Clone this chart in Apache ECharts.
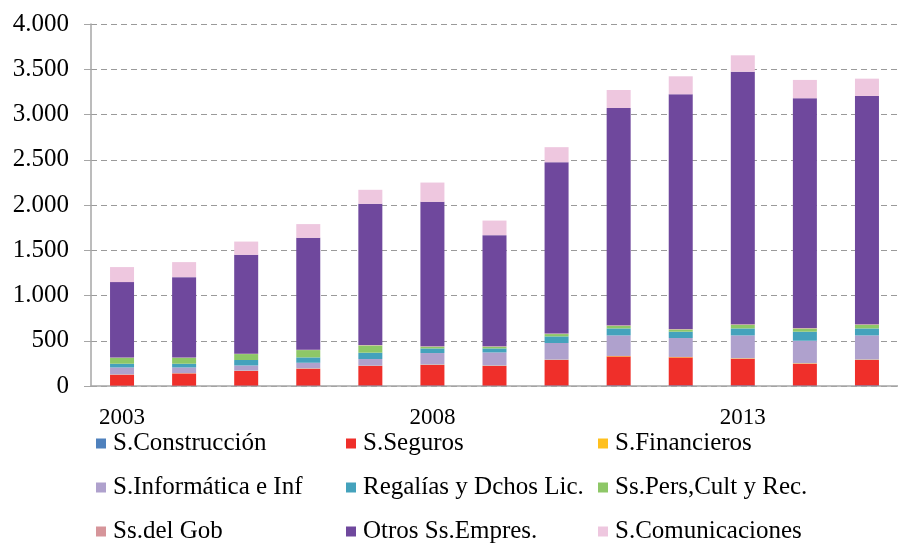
<!DOCTYPE html>
<html>
<head>
<meta charset="utf-8">
<script src="https://cdn.jsdelivr.net/npm/echarts@6/dist/echarts.min.js"></script>
<style>
  html, body { margin: 0; padding: 0; background: #fff; }
  #chart { width: 898px; height: 544px; }
</style>
</head>
<body>
<div id="chart"></div>
<script>
  // años
  var years = ["2003", "2004", "2005", "2006", "2007", "2008", "2009", "2010", "2011", "2012", "2013", "2014", "2015"];

  // series apiladas (de abajo hacia arriba)
  var construccion = [4, 4, 5, 5, 6, 6, 5, 6, 7, 7, 7, 6, 7];
  var seguros = [121, 135, 161, 186, 215, 226, 216, 281, 320, 309, 294, 240, 280];
  var financieros = [2, 2, 3, 3, 3, 4, 4, 4, 5, 5, 5, 5, 5];
  var informatica = [78, 64, 58, 63, 74, 128, 146, 184, 227, 209, 253, 249, 267];
  var regalias = [41, 41, 60, 59, 70, 51, 44, 73, 77, 70, 77, 100, 77];
  var ssPers = [66, 66, 66, 81, 80, 19, 19, 26, 30, 25, 41, 36, 41];
  var ssGob = [3, 3, 4, 4, 4, 5, 5, 5, 6, 6, 6, 6, 6];
  var otrosEmpres = [833, 888, 1093, 1236, 1561, 1596, 1228, 1894, 2400, 2593, 2790, 2538, 2522];
  var comunicaciones = [166, 166, 146, 152, 155, 213, 161, 166, 199, 198, 181, 202, 191];

  var yTicks = [0, 500, 1000, 1500, 2000, 2500, 3000, 3500, 4000];

  var font = "'Liberation Serif', 'Times New Roman', serif";

  var seriesDef = [
    ["S.Construcción", construccion, "#4f81bd"],
    ["S.Seguros", seguros, "#ef2f2a"],
    ["S.Financieros", financieros, "#ffc01e"],
    ["S.Informática e Inf", informatica, "#afa1cd"],
    ["Regalías y Dchos Lic.", regalias, "#44a2bc"],
    ["Ss.Pers,Cult y Rec.", ssPers, "#8ec767"],
    ["Ss.del Gob", ssGob, "#d6959a"],
    ["Otros Ss.Empres.", otrosEmpres, "#6f489d"],
    ["S.Comunicaciones", comunicaciones, "#eec7df"]
  ];

  function miles(v) {
    return String(v).replace(/\B(?=(\d{3})+(?!\d))/g, ".");
  }

  // una leyenda vertical por columna, 3 filas
  function legendCol(left, names) {
    return {
      orient: "vertical",
      left: left,
      top: 431,
      height: 120,
      padding: 0,
      itemWidth: 10,
      itemHeight: 10,
      itemGap: 19,
      icon: "rect",
      selectedMode: false,
      data: names,
      textStyle: { fontFamily: font, fontSize: 25, lineHeight: 22, color: "#000", padding: [0, 0, 0, 2] }
    };
  }

  var chart = echarts.init(document.getElementById("chart"));
  var option = {
    animation: false,
    legend: [
      legendCol(96, ["S.Construcción", "S.Informática e Inf", "Ss.del Gob"]),
      legendCol(346, ["S.Seguros", "Regalías y Dchos Lic.", "Otros Ss.Empres."]),
      legendCol(598, ["S.Financieros", "Ss.Pers,Cult y Rec.", "S.Comunicaciones"])
    ],
    grid: { left: 91, right: -3, top: 24, bottom: 158 },
    xAxis: {
      type: "category",
      data: years,
      axisLine: { lineStyle: { color: "#a6a6a6", width: 1.5 } },
      axisTick: { length: 6, lineStyle: { color: "#a6a6a6" } },
      axisLabel: {
        interval: 4,
        margin: 20,
        fontFamily: font,
        fontSize: 23,
        color: "#000"
      }
    },
    yAxis: {
      type: "value",
      min: yTicks[0],
      max: yTicks[yTicks.length - 1],
      interval: 500,
      axisLine: { show: true, lineStyle: { color: "#a6a6a6", width: 1.5 } },
      axisTick: { show: true, length: 7, lineStyle: { color: "#a6a6a6" } },
      axisLabel: {
        margin: 22,
        fontFamily: font,
        fontSize: 25,
        color: "#000",
        formatter: miles
      },
      splitLine: { lineStyle: { color: "#9a9a9a", type: [6, 4], width: 1 } }
    },
    series: seriesDef.map(function (s) {
      return {
        name: s[0],
        type: "bar",
        stack: "total",
        barWidth: 24,
        data: s[1],
        itemStyle: { color: s[2] }
      };
    })
  };
  chart.setOption(option);
</script>
</body>
</html>
